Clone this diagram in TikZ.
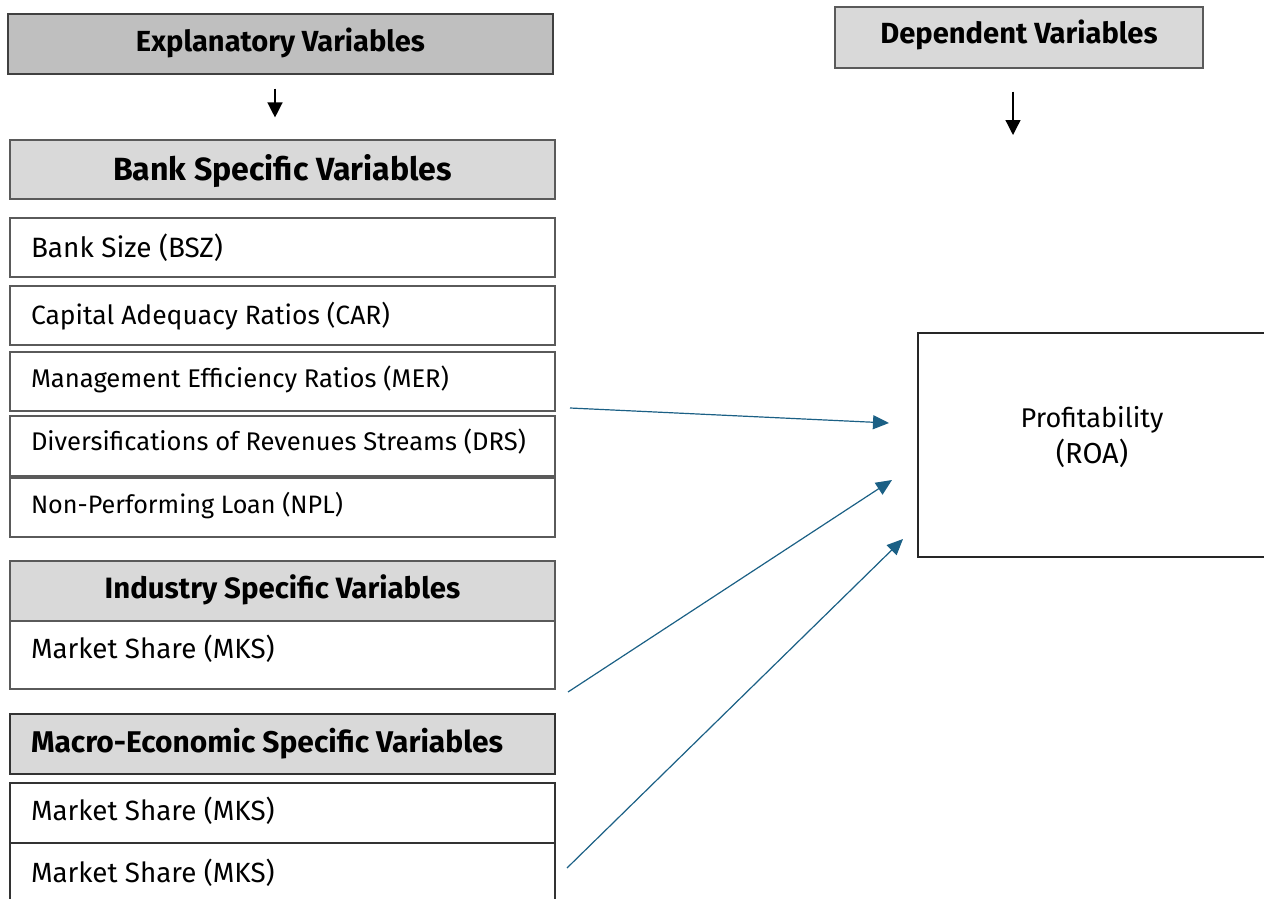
\documentclass[tikz,border=0pt]{standalone}
\usepackage{fontspec}
\setmainfont{Fira Sans}
\usetikzlibrary{arrows.meta}
\definecolor{hdrgray}{HTML}{D9D9D9}
\definecolor{topgray}{HTML}{BFBFBF}
\definecolor{edgegray}{HTML}{5A5A5A}
\definecolor{linkblue}{HTML}{1B6085}
% set #3 in font #2 at the size that makes it #1 pt wide, with rigid word spaces
\newcommand\fitw[3]{%
  \setbox0=\hbox{#2\fontsize{10pt}{12pt}\selectfont\spaceskip=\fontdimen2\font\relax#3}%
  \pgfmathsetmacro\fitsize{10*#1/\the\wd0}%
  #2\fontsize{\fitsize pt}{\fitsize pt}\selectfont\spaceskip=\fontdimen2\font\relax
  \xspaceskip=\spaceskip#3}
\begin{document}
\begin{tikzpicture}[x=1pt,y=-1pt,
  varbox/.style={draw=edgegray, line width=1.1pt, fill=white,
    minimum width=545pt, minimum height=59pt, inner xsep=21pt, inner ysep=0pt,
    text width=503pt, align=left, text height=18pt, text depth=0pt},
  hdrbox/.style={varbox, fill=hdrgray, align=center},
  blk/.style={draw=black, line width=1.3pt, -{Triangle[length=15pt,width=15pt]}},
  lnk/.style={draw=linkblue, line width=1.2pt, -{Triangle[length=16pt,width=14pt]}}]
\useasboundingbox (0,0) rectangle (1264,899);

% explanatory side
\node[hdrbox, fill=topgray, draw=black!75, minimum height=60pt, text height=16pt] (expl) at (280.5,44)
  {\fitw{289}{\bfseries}{Explanatory Variables}};
\node[hdrbox, text height=21pt] (bank) at (282.5,169.5)
  {\fitw{339}{\bfseries}{Bank Specific Variables}};
\node[varbox, text height=19pt] (bsz) at (282.5,247.5) {\fitw{192}{}{Bank Size (BSZ)}};
\node[varbox, text height=17pt] (car) at (282.5,315.5) {\fitw{359}{}{Capital Adequacy Ratios (CAR)}};
\node[varbox, text height=11pt] (mer) at (282.5,381.5) {\fitw{418}{}{Management Efficiency Ratios (MER)}};
\node[varbox, minimum height=60pt, text height=8pt] (drs) at (282.5,446) {\fitw{495}{}{Diversifications of Revenues Streams (DRS)}};
\node[varbox, text height=11pt] (npl) at (282.5,507.5) {\fitw{312}{}{Non-Performing Loan (NPL)}};

\node[hdrbox, minimum height=60pt, text height=14pt] (ind) at (282.5,591)
  {\fitw{355.6}{\bfseries}{Industry Specific Variables}};
\node[varbox, minimum height=68pt, text height=6pt] (indmks) at (282.5,655) {\fitw{243.7}{}{Market Share (MKS)}};

\node[hdrbox, align=left, draw=black!80, minimum height=60pt, text height=16pt] (macro) at (282.5,744)
  {\fitw{472}{\bfseries}{Macro-Economic Specific Variables}};
\node[varbox, draw=black!80, minimum height=60pt, text height=14pt] (mks1) at (282.5,813) {\fitw{243.7}{}{Market Share (MKS)}};
\node[varbox, draw=black!80, minimum height=60pt, text height=18pt] (mks2) at (282.5,873) {\fitw{243.7}{}{Market Share (MKS)}};

\draw[blk, shorten <=14pt, shorten >=22pt] ([xshift=-5.5pt]expl.south) -- ([xshift=-7.5pt]bank.north);

% dependent side
\node[hdrbox, minimum width=368pt, text width=340pt, inner xsep=14pt, minimum height=61pt, text height=13pt] (dep) at (1019,37.5)
  {\fitw{277.3}{\bfseries}{Dependent Variables}};
\node[draw=black!85, line width=1.1pt, minimum width=348pt, minimum height=224pt] (roa) at (1092,445) {};
\node[anchor=base, inner sep=0pt] (roa1) at (1092,427) {\fitw{142.7}{}{Profitability}};
\node[anchor=base, inner sep=0pt] (roa2) at (1092,463) {\fitw{72.3}{}{(ROA)}};

\coordinate (deptip) at (1013,135);
\draw[blk, shorten <=23pt] ([xshift=-6pt]dep.south) -- (deptip);

% links into profitability
\coordinate (s1) at (570,408);  \coordinate (t1) at (889,423);
\coordinate (s2) at (568,692);  \coordinate (t2) at (892,480);
\coordinate (s3) at (567,868);  \coordinate (t3) at (903,539);
\draw[lnk] (s1) -- (t1);
\draw[lnk] (s2) -- (t2);
\draw[lnk] (s3) -- (t3);
\end{tikzpicture}
\end{document}
